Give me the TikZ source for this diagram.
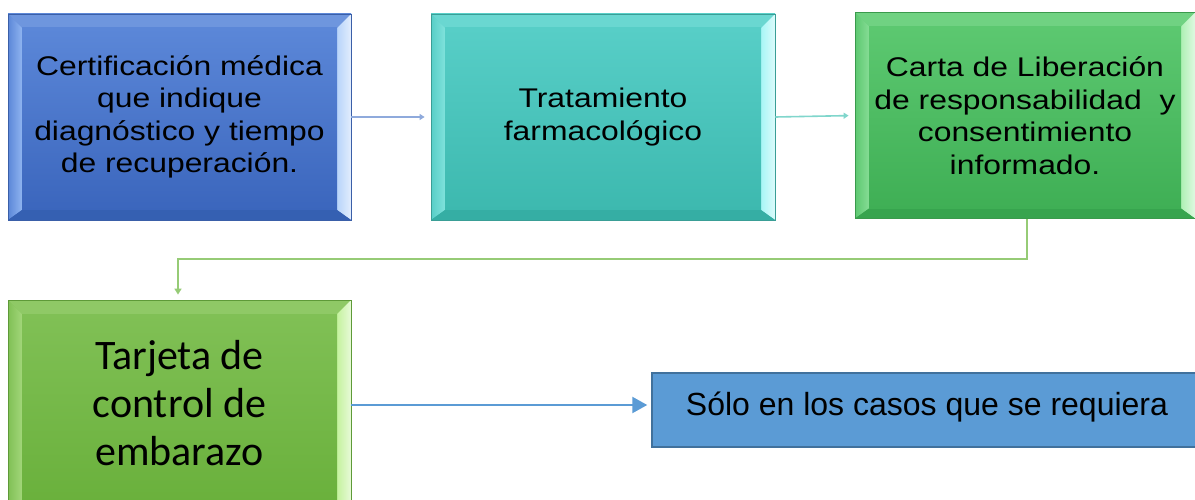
\documentclass[tikz,border=0pt]{standalone}
\usepackage{fontspec}
\newfontfamily\arialwide[FakeStretch=1.18]{Liberation Sans}
\newfontfamily\arialf{Liberation Sans}
\newfontfamily\calibrif{Carlito}
\usetikzlibrary{calc,arrows.meta}
\def\bw{14}
\def\bwb{10}
\definecolor{bluetop}{HTML}{5B87D8}
\definecolor{bluebot}{HTML}{3B66BD}
\definecolor{bluebtop}{HTML}{6E96DE}
\definecolor{blueleft}{HTML}{8FB4F0}
\definecolor{blueright}{HTML}{B8D4FA}
\definecolor{bluebottom}{HTML}{3560B2}
\definecolor{blueedge}{HTML}{3A5FA8}
\definecolor{tealtop}{HTML}{57CEC7}
\definecolor{tealbot}{HTML}{3DB9AF}
\definecolor{tealbtop}{HTML}{6AD7D1}
\definecolor{tealleft}{HTML}{80E2DC}
\definecolor{tealright}{HTML}{A8F6F6}
\definecolor{tealbottom}{HTML}{35AEA4}
\definecolor{tealedge}{HTML}{3A9E96}
\definecolor{grntop}{HTML}{5CC870}
\definecolor{grnbot}{HTML}{3FAF55}
\definecolor{grnbtop}{HTML}{70D282}
\definecolor{grnleft}{HTML}{86DC95}
\definecolor{grnright}{HTML}{AEF0B4}
\definecolor{grnbottom}{HTML}{37A44E}
\definecolor{grnedge}{HTML}{3A9A4C}
\definecolor{limetop}{HTML}{80C055}
\definecolor{limebot}{HTML}{69B03B}
\definecolor{limebtop}{HTML}{8FC966}
\definecolor{limeleft}{HTML}{A2D67A}
\definecolor{limeright}{HTML}{C4F29E}
\definecolor{limebottom}{HTML}{5EA334}
\definecolor{limeedge}{HTML}{5E9A38}
\definecolor{sbox}{HTML}{5B9BD5}
\definecolor{sboxedge}{HTML}{41719C}
\definecolor{arrowblue}{HTML}{8FAADC}
\definecolor{arrowteal}{HTML}{80D6CC}
\definecolor{arrowgreen}{HTML}{96CB76}
\tikzset{
  bevelbox/.style n args={7}{%
    draw=#7, line width=0.8pt, inner sep=0pt, align=center, text=black,
    path picture={
      \path (path picture bounding box.north west) coordinate (pnw)
            (path picture bounding box.south east) coordinate (pse);
      \path (pnw -| pse) coordinate (pne) (pnw |- pse) coordinate (psw);
      \shade[top color=#1, bottom color=#2] (pnw) rectangle (pse);
      \fill[#3] (pnw) -- (pne) -- ($(pne)+(-\bw,\bw)$) -- ($(pnw)+(\bw,\bw)$) -- cycle;
      \shade[left color=#1, right color=#4] (pnw) -- ($(pnw)+(\bw,\bw)$) -- ($(psw)+(\bw,-\bwb)$) -- (psw) -- cycle;
      \shade[left color=#5, right color=white!60!#5] (pne) -- (pse) -- ($(pse)+(-\bw,-\bwb)$) -- ($(pne)+(-\bw,\bw)$) -- cycle;
      \fill[#6] (psw) -- (pse) -- ($(pse)+(-\bw,-\bwb)$) -- ($(psw)+(\bw,-\bwb)$) -- cycle;
      \shade[top color=#1, bottom color=#2] ($(pnw)+(\bw,\bw)$) rectangle ($(pse)+(-\bw,-\bwb)$);
    }},
  toptext/.style={font=\arialwide\fontsize{27}{32.5}\selectfont},
  smallarrow/.style={line width=1.6pt, -{Triangle[length=5pt,width=6pt]}, shorten >=6pt},
}
\begin{document}
\begin{tikzpicture}[x=1pt,y=-1pt]
\path[use as bounding box, clip] (0,0) rectangle (1195,500);
\fill[white] (0,0) rectangle (1195,500);

\node[bevelbox={bluetop}{bluebot}{bluebtop}{blueleft}{blueright}{bluebottom}{blueedge},
      minimum width=343pt, minimum height=206pt, toptext] (a) at (179.5,117)
  {Certificación médica\\que indique\\diagnóstico y tiempo\\de recuperación.};

\node[bevelbox={tealtop}{tealbot}{tealbtop}{tealleft}{tealright}{tealbottom}{tealedge},
      minimum width=344pt, minimum height=206pt, toptext] (b) at (603,117)
  {Tratamiento\\farmacológico};

\node[bevelbox={grntop}{grnbot}{grnbtop}{grnleft}{grnright}{grnbottom}{grnedge},
      minimum width=340pt, minimum height=206pt, toptext] (c) at (1025,115.5)
  {Carta de Liberación\\de responsabilidad\ \ y\\consentimiento\\informado.};

\node[bevelbox={limetop}{limebot}{limebtop}{limeleft}{limeright}{limebottom}{limeedge},
      minimum width=343pt, minimum height=220pt, text depth=14pt,
      font=\calibrif\fontsize{42}{48}\selectfont] (d) at (179.5,410)
  {Tarjeta de\\control de\\embarazo};

\node[draw=sboxedge, fill=sbox, line width=1.5pt, minimum width=548pt, minimum height=74pt,
      inner sep=0pt, text height=22pt, text depth=12pt,
      font=\arialf\fontsize{32}{36}\selectfont] (e) at (926,410)
  {Sólo en los casos que se requiera\hspace*{-2pt}};

\draw[smallarrow, color=arrowblue] (a.east) -- (b.west);
\draw[smallarrow, color=arrowteal] (b.east) -- (c.west);
\draw[line width=1.8pt, color=arrowgreen,
      -{Triangle[length=6pt,width=7pt]}, shorten >=5pt]
  ([xshift=2pt]c.south) -- ++(0,40) -| ([xshift=-1.5pt]d.north);
\draw[line width=2.4pt, color=sbox, -{Triangle[length=15pt,width=16pt]}, shorten >=4pt]
  ([yshift=5pt]d.east) -- ([yshift=5pt]e.west);
\end{tikzpicture}
\end{document}
